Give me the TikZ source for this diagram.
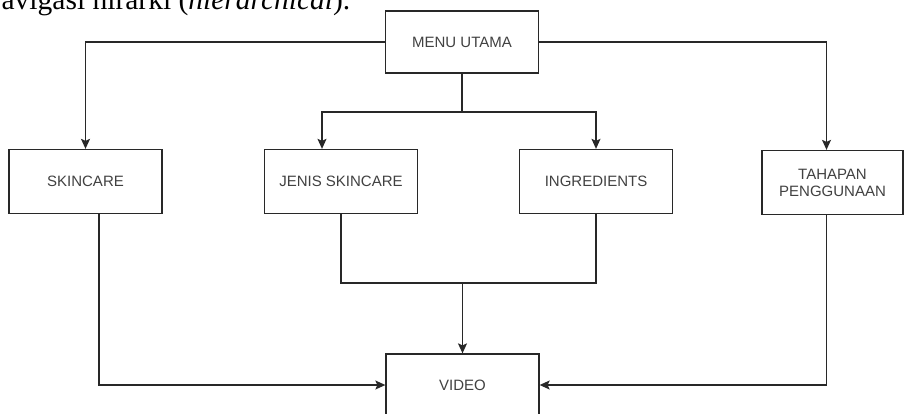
\documentclass[tikz,border=0pt]{standalone}
\usepackage{fontspec}
\setmainfont{Liberation Serif}
\newfontfamily\boxfont{Liberation Sans}
\usepackage{tikz}
\usetikzlibrary{arrows.meta}
\definecolor{line_grey}{RGB}{40,40,40}
\definecolor{text_grey}{RGB}{65,65,65}

\begin{document}
\begin{tikzpicture}[x=1pt,y=-1pt,line width=1.3pt,draw=line_grey,>={Stealth[length=10pt,width=9pt,inset=2pt]}]
    \tikzstyle{menubox}=[draw=line_grey, rectangle, fill=white, inner sep=0pt, text=text_grey, align=center, font=\boxfont\fontsize{15}{17}\selectfont]
    \tikzstyle{wide}=[style=menubox, minimum width=153pt, minimum height=64pt]
    \tikzstyle{narrow}=[style=menubox, minimum width=141pt, minimum height=64pt]

    \useasboundingbox (0,0) rectangle (904,413);
    \clip (0,0) rectangle (904,413);

    \node[anchor=base west, inner sep=0pt, font=\fontsize{29.5}{34}\selectfont] (caption) at (1,9) {avigasi hirarki (\textit{hierarchical}).};

    \node[wide, minimum height=62pt] (menu)  at (462,42)    {MENU UTAMA};
    \node[wide]                      (skin)  at (85.5,181.5) {SKINCARE};
    \node[wide]                      (jenis) at (341,181.5)  {JENIS SKINCARE};
    \node[wide]                      (ingr)  at (596,181.5)  {INGREDIENTS};
    \node[narrow]                    (tahap) at (832.5,182.5) {TAHAPAN\\PENGGUNAAN};
    \node[wide, minimum height=62pt] (video) at (462.5,385)  {VIDEO};

    \coordinate (split) at (462,112);
    \coordinate (join)  at (462.5,283);

    \draw[->] (menu.west) -| (skin.north);
    \draw[->] (menu.east) -| ([xshift=-6pt]tahap.north);
    \draw (menu.south) -- (split);
    \draw[->] (split) -| ([xshift=-19pt]jenis.north);
    \draw[->] (split) -| (ingr.north);
    \draw (jenis.south) |- (join) -| (ingr.south);
    \draw[->] (join) -- (video.north);
    \draw[->] ([xshift=13.5pt]skin.south) |- (video.west);
    \draw[->] ([xshift=-6pt]tahap.south) |- (video.east);
  \end{tikzpicture}
\end{document}
